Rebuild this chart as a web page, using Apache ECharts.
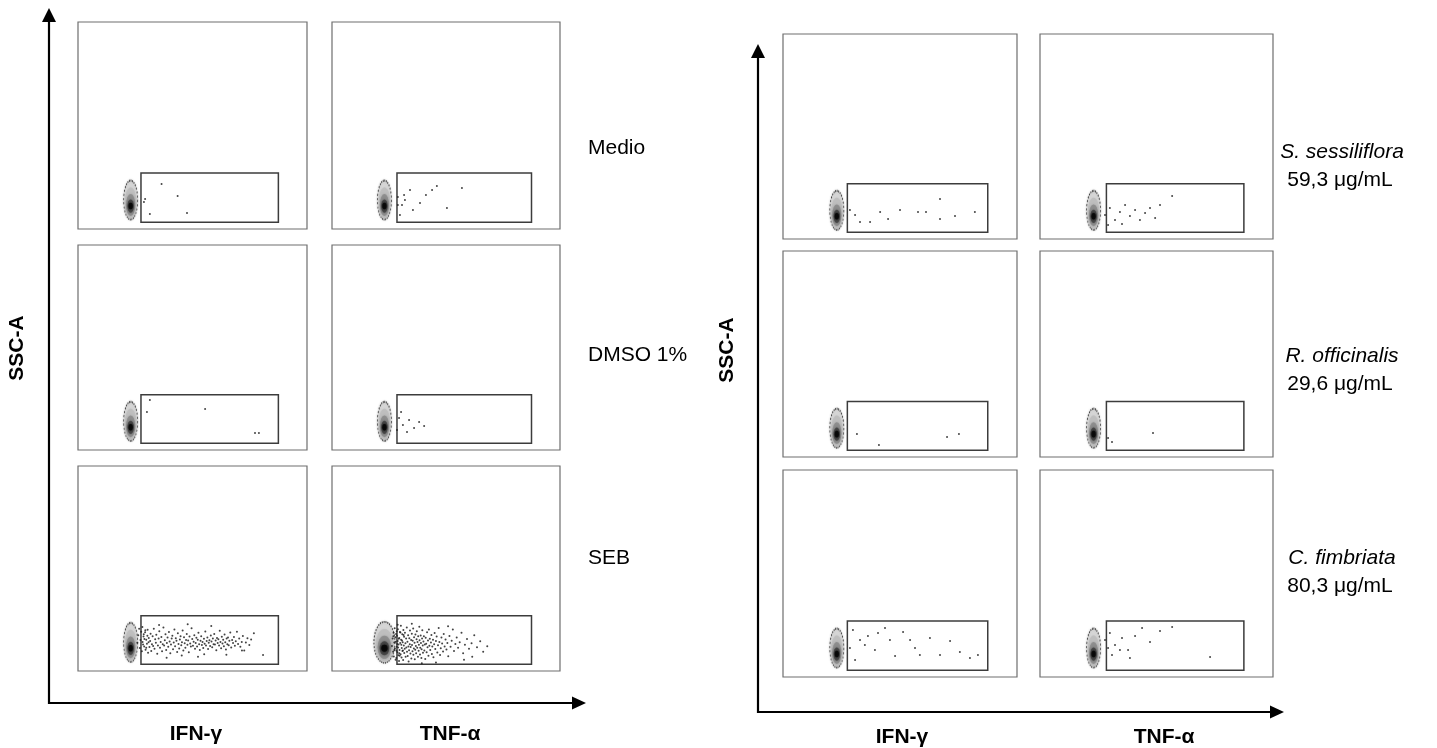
<!DOCTYPE html>
<html>
<head>
<meta charset="utf-8">
<title>SSC-A vs IFN-γ / TNF-α</title>
<script src="https://cdn.jsdelivr.net/npm/echarts/dist/echarts.min.js"></script>
<style>
  html, body { margin: 0; padding: 0; background: #fff; }
  #chart { width: 1437px; height: 748px; }
</style>
</head>
<body>
<div id="chart"></div>
<script>
// ---- Data (panel scale: 0-100 on both axes) ----
const conditionsLeft = ['Medio', 'DMSO 1%', 'SEB'];
const extractNames = ['S. sessiliflora', 'R. officinalis', 'C. fimbriata'];
const extractDoses = ['59,3 μg/mL', '29,6 μg/mL', '80,3 μg/mL'];
const markerLabels = ['IFN-γ', 'TNF-α'];
const yLabel = 'SSC-A';

// gate rectangles [x1, y1, x2, y2]
const gateIFN = [27.5, 3.3, 87.5, 27.0];
const gateTNF = [28.5, 3.3, 87.5, 27.0];

// centre of the negative population
const negativeCentre = [23, 14];

const medioIFN = [[36.5,21.7],[43.5,16.0],[31.4,7.2],[47.6,7.7],[29.3,14.5],[28.8,13.0]];
const medioTNF = [[28.9,15.5],[30.7,11.6],[32.0,14.0],[34.2,18.8],[35.5,9.2],[38.6,12.6],[41.2,16.4],
  [43.9,18.8],[46.0,20.8],[50.4,10.1],[57.0,19.8],[29.8,6.8],[28.9,11.6],[31.6,16.4]];
const dmsoIFN = [[55.5,20.0],[30.1,18.5],[77.3,8.3],[79.0,8.3],[31.4,24.4]];
const dmsoTNF = [[29.4,15.6],[31.1,12.2],[33.8,14.6],[36.0,10.7],[38.2,13.7],[40.4,11.7],[28.5,9.8],
  [30.3,18.5],[32.9,8.8]];
const sebIFN = [
  [25.9,13.8],[26.3,17.5],[26.7,20.6],[27.0,11.2],[27.3,15.1],[27.6,19.2],[27.9,9.6],[28.1,21.5],
  [28.4,12.9],[28.7,17.9],[29.0,15.6],[29.4,19.9],[29.8,11.4],[30.3,17.2],[30.8,14.0],
  [28.2,14.1],[28.6,16.8],[28.9,12.0],[29.3,18.9],[29.5,10.4],[29.8,15.2],[30.1,13.3],[30.4,20.1],
  [30.6,8.9],[30.9,16.1],[31.2,11.7],[31.5,14.6],[31.7,18.2],[32.0,9.8],[32.3,13.0],[32.6,16.9],
  [32.8,12.2],[33.1,20.6],[33.4,10.9],[33.7,15.5],[34.0,13.8],[34.2,17.7],[34.6,8.4],[34.9,12.5],
  [35.2,15.9],[35.5,19.4],[35.8,11.3],[36.1,14.2],[36.4,16.6],[36.7,9.6],[37.0,13.1],[37.3,21.2],
  [37.6,12.4],[37.9,15.0],[38.2,17.9],[38.5,10.2],[38.8,13.6],[39.1,16.3],[39.4,11.8],[39.7,19.0],
  [40.0,14.4],[40.3,8.7],[40.6,12.9],[40.9,15.8],[41.2,17.2],[41.5,10.6],[41.8,13.9],[42.1,20.3],
  [42.4,12.1],[42.7,16.0],[43.0,14.7],[43.3,9.3],[43.6,18.4],[43.9,13.2],[44.2,11.0],[44.5,15.4],
  [44.8,17.0],[45.1,12.6],[45.4,14.0],[45.7,19.8],[46.0,10.0],[46.3,16.5],[46.6,13.5],[46.9,11.4],
  [47.2,15.1],[47.5,18.0],[47.8,12.8],[48.1,14.9],[48.4,9.1],[48.7,16.8],[49.0,13.4],[49.3,11.9],
  [49.6,20.8],[49.9,15.6],[50.2,12.3],[50.5,14.3],[50.8,17.5],[51.1,10.8],[51.4,13.7],[51.7,16.2],
  [52.0,12.0],[52.3,15.3],[52.6,18.6],[52.9,13.0],[53.2,10.3],[53.5,14.8],[53.8,16.9],[54.1,12.7],
  [54.4,14.1],[54.7,11.2],[55.0,15.7],[55.3,13.3],[55.6,19.3],[55.9,12.4],[56.2,14.6],[56.5,16.4],
  [56.8,10.7],[57.1,13.8],[57.4,15.0],[57.7,12.2],[58.0,17.3],[58.3,14.4],[58.6,11.6],[58.9,15.9],
  [59.2,13.1],[59.5,18.1],[59.8,12.9],[60.1,14.9],[60.4,10.1],[60.7,16.1],[61.0,13.6],[61.3,15.5],
  [61.6,12.5],[61.9,19.6],[62.2,14.2],[62.5,11.1],[62.8,16.7],[63.1,13.4],[63.4,15.2],[63.7,12.1],
  [64.0,17.8],[64.3,14.0],[64.6,10.5],[64.9,15.8],[65.2,13.0],[65.5,16.3],[65.8,12.6],[66.1,14.7],
  [66.5,18.8],[66.9,11.5],[67.3,15.1],[67.7,13.7],[68.1,16.6],[68.5,12.3],[68.9,14.5],[69.4,19.1],
  [69.9,13.2],[70.4,15.9],[70.9,11.8],[71.5,14.2],[72.0,17.1],[72.6,10.0],[73.3,13.9],[74.0,16.0],
  [74.8,12.7],[75.6,15.4],[71.6,10.0],[80.8,7.8],[76.8,18.4],[64.8,7.9],[55.1,8.2],[45.3,7.6],
  [35.4,22.5],[58.2,21.9],[47.9,22.8],[52.4,6.9],[38.7,6.5]
];
const sebTNF = [
  [26.3,12.2],[26.6,15.8],[26.8,9.4],[27.0,18.6],[27.1,7.1],[27.3,13.9],[27.5,20.9],[27.6,11.0],
  [27.8,16.5],[27.9,5.5],[28.0,14.3],[28.1,18.0],[28.3,9.9],[28.6,13.2],[28.8,22.6],[29.0,11.5],
  [29.3,15.7],[29.7,7.4],[30.0,18.8],[30.4,12.8],[30.7,14.9],[31.1,10.0],[31.4,17.6],[29.5,8.6],
  [28.4,19.4],[27.4,10.3],[26.9,17.0],
  [28.2,6.3],[28.4,11.8],[28.5,17.2],[28.7,9.1],[28.8,14.6],[28.9,20.4],[29.1,7.7],[29.2,12.9],
  [29.4,4.9],[29.5,16.1],[29.6,10.3],[29.8,19.0],[29.9,13.7],[30.1,8.2],[30.2,22.1],[30.3,15.3],
  [30.5,6.6],[30.6,11.2],[30.8,17.9],[30.9,9.8],[31.0,14.0],[31.2,5.4],[31.3,20.0],[31.5,12.4],
  [31.6,16.7],[31.7,8.8],[31.9,10.9],[32.0,18.6],[32.2,13.5],[32.3,6.9],[32.5,15.8],[32.6,11.5],
  [32.8,21.2],[32.9,9.4],[33.1,14.3],[33.2,7.3],[33.4,17.4],[33.5,12.0],[33.6,4.6],[33.8,10.1],
  [33.9,16.0],[34.1,13.1],[34.2,19.7],[34.4,8.5],[34.5,11.7],[34.7,15.1],[34.8,6.1],[35.0,18.2],
  [35.1,12.7],[35.3,9.6],[35.4,14.8],[35.6,20.7],[35.7,7.9],[35.9,11.0],[36.0,16.5],[36.2,13.8],
  [36.3,5.7],[36.5,10.4],[36.6,17.8],[36.8,12.2],[36.9,8.7],[37.1,15.5],[37.2,19.4],[37.4,11.4],
  [37.5,14.1],[37.7,7.0],[37.8,16.9],[38.0,9.9],[38.1,12.8],[38.3,21.6],[38.4,15.0],[38.6,8.0],
  [38.7,11.3],[38.9,17.3],[39.0,13.6],[39.2,6.4],[39.3,10.6],[39.5,15.9],[39.6,19.9],[39.8,12.5],
  [39.9,8.9],[40.1,14.4],[40.3,17.0],[40.5,10.0],[40.7,12.9],[40.9,5.9],[41.1,16.2],[41.3,13.3],
  [41.5,9.2],[41.7,18.9],[41.9,11.6],[42.1,14.9],[42.3,7.5],[42.5,20.3],[42.7,12.3],[42.9,15.7],
  [43.1,10.2],[43.4,13.9],[43.6,17.6],[43.8,8.3],[44.0,11.9],[44.3,15.2],[44.5,6.7],[44.8,13.0],
  [45.0,18.5],[45.3,10.7],[45.6,14.6],[45.9,16.8],[46.2,9.0],[46.5,12.6],[46.8,21.0],[47.1,14.2],
  [47.4,7.8],[47.7,11.1],[48.0,16.4],[48.3,13.4],[48.7,9.5],[49.0,18.1],[49.4,12.0],[49.8,15.4],
  [50.2,10.5],[50.6,13.7],[51.0,7.2],[51.5,17.1],[52.0,11.8],[52.5,14.7],[53.0,20.2],[53.5,9.7],
  [54.1,13.2],[54.7,16.3],[55.3,11.4],[56.0,14.0],[56.8,18.7],[57.5,8.6],[58.3,12.8],[59.2,15.6],
  [60.1,10.9],[61.2,13.5],[62.4,17.5],[63.6,11.6],[65.0,14.5],[66.3,9.4],[68.1,12.1],[45.6,4.2],
  [39.4,3.8],[50.9,21.8],[35.0,23.0],[57.9,5.5],[61.5,6.9]
];
const sessIFN = [[30.8,11.7],[32.9,8.3],[41.5,13.2],[50.0,14.1],[57.7,13.2],[61.1,13.2],[67.1,19.5],
  [73.5,11.2],[82.0,13.2],[37.2,8.3],[28.6,14.1],[44.9,9.8],[67.1,9.8]];
const sessTNF = [[27.9,11.7],[30.0,15.1],[32.2,9.3],[34.3,13.2],[36.5,16.6],[38.6,11.2],[40.8,14.1],
  [42.9,9.3],[45.1,12.7],[49.4,10.2],[51.5,16.6],[56.7,21.0],[29.2,6.8],[35.2,7.3],[47.2,15.1]];
const offIFN = [[31.6,11.2],[41.0,5.8],[70.1,9.7],[75.2,11.2]];
const offTNF = [[29.2,9.2],[48.5,11.7],[30.9,7.3]];
const fimbIFN = [[29.9,22.7],[32.9,17.9],[36.3,19.8],[40.6,21.3],[45.7,17.9],[51.3,21.7],[56.4,14.0],
  [62.8,18.8],[67.1,10.6],[71.4,17.4],[75.6,12.1],[79.9,9.2],[83.3,10.6],[39.3,13.0],[47.9,10.1],
  [54.3,17.9],[35.0,15.5],[43.6,23.7],[28.6,14.0],[58.5,10.6],[30.8,8.2]];
const fimbTNF = [[27.9,17.9],[30.0,21.3],[32.2,15.5],[35.2,18.8],[37.8,13.0],[40.8,19.8],[43.8,23.7],
  [47.2,16.9],[51.5,22.2],[56.7,24.2],[30.9,10.6],[34.3,13.0],[73.0,9.7],[29.2,14.0],[38.6,9.2]];

// ---- Layout (pixels) ----
const figures = [
  { cols: [[78, 307], [332, 560]], rows: [[22, 229], [245, 450], [466, 671]] },
  { cols: [[783, 1017], [1040, 1273]], rows: [[34, 239], [251, 457], [470, 677]] }
];
const eventSets = [
  [[medioIFN, medioTNF], [dmsoIFN, dmsoTNF], [sebIFN, sebTNF]],
  [[sessIFN, sessTNF], [offIFN, offTNF], [fimbIFN, fimbTNF]]
];
const gates = [gateIFN, gateTNF];

const FONT = '"Liberation Sans", Arial, sans-serif';

const grid = [], xAxis = [], yAxis = [], series = [];

function populationLayers(idx, big) {
  // nested ellipses: pale rim to dark core, core sitting low in the population
  const w = big ? 21 : 14, h = big ? 41 : 39;
  const layers = [
    { s: [w, h], off: 0, c: '#dcdcdc', border: true },
    { s: [w * 0.85, h * 0.8], off: 3, c: '#bdbdbd' },
    { s: [w * 0.65, h * 0.56], off: 5, c: '#8a8a8a' },
    { s: [w * 0.45, h * 0.34], off: 6, c: '#404040' },
    { s: [w * 0.3, h * 0.17], off: 6, c: '#050505' }
  ];
  layers.forEach(function (L) {
    series.push({
      type: 'scatter', xAxisIndex: idx, yAxisIndex: idx, silent: true,
      data: [negativeCentre],
      symbol: 'circle', symbolSize: L.s, symbolOffset: [0, L.off],
      itemStyle: L.border ? {
        color: L.c, borderColor: '#1a1a1a', borderWidth: 1.3, borderType: 'dotted',
        shadowBlur: 2, shadowColor: 'rgba(120,120,120,0.6)'
      } : { color: L.c, shadowBlur: 2, shadowColor: L.c },
      z: 2
    });
  });
}

figures.forEach(function (fig, f) {
  fig.rows.forEach(function (r, ri) {
    fig.cols.forEach(function (c, ci) {
      const idx = grid.length;
      grid.push({
        left: c[0], top: r[0], width: c[1] - c[0], height: r[1] - r[0],
        show: true, borderColor: '#6e6e6e', borderWidth: 1.2, backgroundColor: '#fff'
      });
      xAxis.push({ gridIndex: idx, type: 'value', min: 0, max: 100, show: false });
      yAxis.push({ gridIndex: idx, type: 'value', min: 0, max: 100, show: false });
      populationLayers(idx, f === 0 && ri === 2 && ci === 1);
      const g = gates[ci];
      series.push({
        type: 'scatter', xAxisIndex: idx, yAxisIndex: idx, silent: true,
        data: eventSets[f][ri][ci],
        symbol: 'circle', symbolSize: 2,
        itemStyle: { color: '#222', opacity: 0.85 },
        z: 3,
        markArea: {
          silent: true,
          itemStyle: { color: 'rgba(0,0,0,0)', borderColor: '#3c3c3c', borderWidth: 1.5 },
          data: [[{ coord: [g[0], g[1]] }, { coord: [g[2], g[3]] }]]
        }
      });
    });
  });
});

// ---- Axes arrows and labels ----
function arrowL(x0, yTop, yBase, xRight) {
  return [
    { type: 'polyline', shape: { points: [[x0, yTop + 12], [x0, yBase], [xRight - 12, yBase]] },
      style: { stroke: '#000', lineWidth: 2.2, fill: null }, z: 10 },
    { type: 'polygon', shape: { points: [[x0, yTop], [x0 - 7, yTop + 14], [x0 + 7, yTop + 14]] },
      style: { fill: '#000' }, z: 10 },
    { type: 'polygon', shape: { points: [[xRight, yBase], [xRight - 14, yBase - 6.5], [xRight - 14, yBase + 6.5]] },
      style: { fill: '#000' }, z: 10 }
  ];
}
function txt(text, x, y, font, align, rot) {
  return {
    type: 'text', x: x, y: y, rotation: rot || 0, z: 10,
    style: { text: text, x: 0, y: 0, font: font, fill: '#000',
      textAlign: align, align: align, textVerticalAlign: 'middle', verticalAlign: 'middle' }
  };
}

const graphic = []
  .concat(arrowL(49, 8, 703, 586))
  .concat(arrowL(758, 44, 712, 1284));

graphic.push(txt(yLabel, 17, 348, 'bold 21px ' + FONT, 'center', Math.PI / 2));
graphic.push(txt(yLabel, 727, 350, 'bold 21px ' + FONT, 'center', Math.PI / 2));
graphic.push(txt(markerLabels[0], 196, 734, 'bold 21px ' + FONT, 'center'));
graphic.push(txt(markerLabels[1], 450, 734, 'bold 21px ' + FONT, 'center'));
graphic.push(txt(markerLabels[0], 902, 737, 'bold 21px ' + FONT, 'center'));
graphic.push(txt(markerLabels[1], 1164, 737, 'bold 21px ' + FONT, 'center'));

const condY = [148, 355, 558];
conditionsLeft.forEach(function (t, i) {
  graphic.push(txt(t, 588, condY[i], '21px ' + FONT, 'left'));
});
const nameY = [152, 356, 558];
extractNames.forEach(function (t, i) {
  graphic.push(txt(t, 1342, nameY[i], 'italic 21px ' + FONT, 'center'));
  graphic.push(txt(extractDoses[i], 1340, nameY[i] + 28, '21px ' + FONT, 'center'));
});

const chart = echarts.init(document.getElementById('chart'), null, { renderer: 'canvas' });
chart.setOption({
  animation: false,
  backgroundColor: '#fff',
  grid: grid, xAxis: xAxis, yAxis: yAxis, series: series,
  graphic: graphic
});
</script>
</body>
</html>
